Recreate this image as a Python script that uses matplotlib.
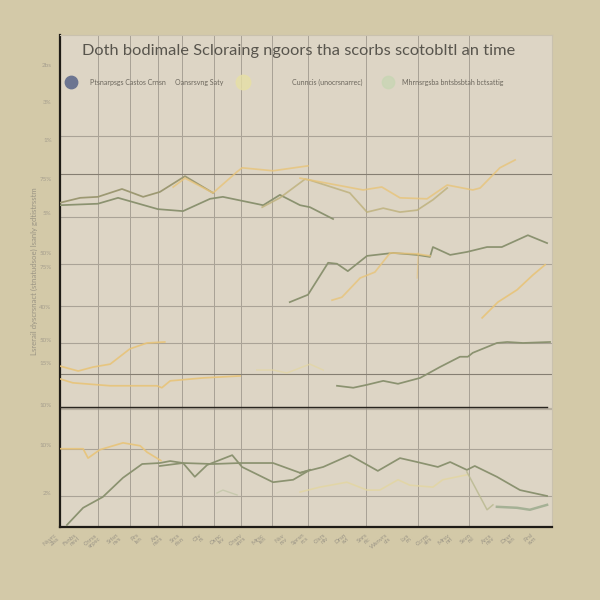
import numpy as np
import matplotlib
matplotlib.use('Agg')
from matplotlib import pyplot as plt

matplotlib.rcParams['font.family'] = ['Lato', 'DejaVu Sans']

### chart data (x = period index 0-100, y = score 0-100)
title = 'Doth bodimale Scloraing ngoors tha scorbs scotobltl an time'
legend_labels = ['Ptsnarpsgs Castos Crnsn', 'Oansrsvng Saty',
                 'Cunncis (unocrsnarrec)', 'Mhrnsrgsba bntsbsbtah bctsattig']
ylabel = 'Lsrerail dyscrsnact (stnatudsoe) lsanly gdtistrsstm'

g1_x = [0, 7.7, 11.8, 19.9, 25.0, 30.5, 33.1, 41.3, 44.7, 48.8, 50.8, 55.5]
g1_y = [65.4, 65.7, 66.9, 64.6, 64.2, 66.7, 67.1, 65.4, 67.5, 65.4, 65.0, 62.6]

b1_x = [0, 4.1, 7.7, 12.6, 16.9, 20.3, 25.4, 31.1]
b1_y = [65.9, 66.9, 67.1, 68.7, 67.1, 68.1, 71.3, 67.9]

y1_x = [23.0, 25.4, 31.1, 36.0, 37.0, 43.3, 50.4]
y1_y = [69.1, 70.9, 67.9, 72.2, 73.0, 72.4, 73.4]

b2_x = [41.1, 44.7, 49.8, 50.8, 58.9, 62.4, 65.7, 69.1, 72.6, 75.8, 78.7]
b2_y = [65.0, 66.9, 70.7, 70.5, 67.9, 64.0, 64.8, 64.0, 64.4, 66.5, 68.9]

y3_x = [48.8, 61.6, 65.4, 69.1, 74.6, 78.7, 83.9, 85.4, 89.4, 92.5]
y3_y = [70.9, 68.5, 69.1, 66.9, 66.7, 69.5, 68.5, 68.9, 73.0, 74.6]

g2_x = [46.7, 50.4, 54.5, 56.3, 58.5, 62.4, 67.7, 72.6, 75.2, 75.8, 79.3,
        82.7, 86.8, 89.8, 95.1, 99.0]
g2_y = [45.7, 47.2, 53.7, 53.5, 52.0, 55.1, 55.7, 55.3, 54.9, 56.9, 55.3,
        55.9, 56.9, 56.9, 59.3, 57.7]

y4_x = [55.3, 57.3, 61.0, 64.0, 67.1, 72.6, 75.2]
y4_y = [46.1, 46.7, 50.6, 51.8, 55.7, 55.5, 55.1]
y4b_x = [72.6, 72.8]
y4b_y = [50.6, 55.7]

y5_x = [85.8, 89.0, 92.9, 96.1, 98.6]
y5_y = [42.5, 45.7, 48.2, 51.2, 53.3]

y6_x = [0, 3.7, 6.7, 10.2, 14.2, 17.7, 21.3]
y6_y = [32.7, 31.7, 32.5, 33.1, 36.2, 37.4, 37.6]

y7_x = [0, 2.6, 10.2, 19.7, 20.7, 22.4, 29.1, 36.6]
y7_y = [30.1, 29.3, 28.7, 28.7, 28.3, 29.7, 30.3, 30.7]
y7b_x = [40.0, 43.3, 46.1, 50.8, 53.5]
y7b_y = [31.9, 31.9, 31.3, 33.1, 31.9]

g3_x = [56.3, 59.6, 62.4, 65.7, 68.7, 73.2, 77.2, 81.3, 82.9, 83.9, 88.8,
        90.9, 94.1, 99.6]
g3_y = [28.7, 28.3, 28.9, 29.7, 29.1, 30.3, 32.5, 34.6, 34.6, 35.4, 37.4,
        37.6, 37.4, 37.6]

y8_x = [0, 4.7, 5.7, 8.1, 12.8, 16.3, 17.7, 20.5]
y8_y = [15.9, 15.9, 14.0, 15.7, 17.1, 16.5, 15.2, 13.5]

g4_x = [1.4, 4.7, 8.7, 12.8, 16.7, 20.3, 22.4, 25.0, 31.1, 36.6, 43.3, 48.8, 50.8]
g4_y = [0.4, 3.9, 6.1, 10.0, 12.8, 13.0, 13.4, 13.0, 12.8, 13.0, 13.0, 11.0, 11.6]

g5_x = [20.3, 25.0, 27.4, 29.9, 35.0, 37.0, 43.3, 47.4, 50.8]
g5_y = [12.4, 13.0, 10.2, 12.6, 14.6, 12.2, 9.1, 9.6, 11.6]

g6_x = [48.8, 53.5, 58.9, 64.6, 69.1, 72.6, 76.8, 79.3, 82.7, 84.3, 88.8, 93.5, 99.0]
g6_y = [11.0, 12.2, 14.6, 11.4, 14.0, 13.2, 12.2, 13.2, 11.6, 12.4, 10.2, 7.5, 6.3]

y9_x = [48.8, 52.8, 58.3, 62.4, 65.0, 68.7, 71.1, 75.8, 77.8, 82.7]
y9_y = [7.1, 8.1, 9.1, 7.5, 7.5, 9.6, 8.5, 8.1, 9.6, 10.6]

g7_x = [82.7, 86.8, 88.0]
g7_y = [11.2, 3.5, 4.5]
g8_x = [88.8, 92.9, 95.5, 99.0]
g8_y = [4.1, 3.9, 3.5, 4.5]
g9_x = [31.9, 33.1, 36.0]
g9_y = [6.9, 7.5, 6.5]

baseline = 24.4

grid_x = [7.7, 14.2, 19.9, 24.8, 31.3, 36.8, 43.1, 50.4, 62.2, 72.8, 83.1]
grid_y = [79.5, 71.7, 63.0, 53.5, 44.9, 37.4, 31.1, 15.9, 6.3]
dark_grid_y = [71.7, 31.1]

ytick_vals = [93.9, 86.4, 78.7, 70.7, 63.8, 55.7, 52.8, 44.7, 38.0, 33.3, 24.8, 16.7, 6.9]
ytick_labs = ['2bs', '3%', '1%', '75%', '5%', '50%', '75%', '40%', '50%',
              '15%', '10%', '10%', '2%']

xtick_labs = ['Nsvrc\n2lss', 'Fsnbs\nnsvl', 'Cnrss\nsrpsc', 'Srlsn\nnvs', 'Prs\nlsn',
              'Ars\nnsrs', 'Srcs\nrlsn', 'Olv\nrs', 'Osnc\nlsv', 'Cnsrv\nsnrs',
              'Mrsc\nlsn', 'Nsv\nrsv', 'Sprsn\nrcs', 'Clsrs\nnlv', 'Drsn\nsvl',
              'Snrs\nrlc', 'Wsnvrs\ncls', 'Lvs\nrn', 'Ccrns\nslrs', 'Mrsv\nnrl',
              'Ssvn\nrsl', 'Arcs\nnsv', 'Dsvr\nlsn', 'Prsl\nsvn']

### visualize
fig = plt.figure(figsize=(6, 6), dpi=100)
fig.patch.set_facecolor('#d3c9a8')
ax = fig.add_axes([0.1, 0.1217, 0.82, 0.82])
ax.set_facecolor('#ddd5c5')

for gx in grid_x:
    ax.axvline(gx, color='#a8a195', lw=0.7, zorder=1)
for gy in grid_y:
    c = '#857e72' if gy in dark_grid_y else '#aaa397'
    ax.axhline(gy, color=c, lw=0.8, zorder=1)

ax.axhline(baseline - 0.35, color='#a19a8c', lw=1.6, alpha=0.6, zorder=2)
ax.axhline(baseline, xmin=0, xmax=0.99, color='#2a2620', lw=1.0, zorder=3)

olive = '#8b9270'
olive2 = '#9c9872'
yellow = '#e8c479'
pale = '#e3d5a0'
lw = 1.25

ax.plot(g1_x, g1_y, color=olive, lw=lw, zorder=4)
ax.plot(b1_x, b1_y, color=olive2, lw=lw, zorder=4)
ax.plot(y1_x, y1_y, color=yellow, lw=lw, alpha=0.8, zorder=4)
ax.plot(b2_x, b2_y, color='#bdb07a', lw=lw, alpha=0.8, zorder=4)
ax.plot(y3_x, y3_y, color=yellow, lw=lw, alpha=0.8, zorder=4)
ax.plot(g2_x, g2_y, color=olive, lw=lw, zorder=4)
ax.plot(y4_x, y4_y, color=yellow, lw=lw, alpha=0.8, zorder=4)
ax.plot(y4b_x, y4b_y, color=yellow, lw=0.9, alpha=0.6, zorder=4)
ax.plot(y5_x, y5_y, color=yellow, lw=lw, alpha=0.9, zorder=4)
ax.plot(y6_x, y6_y, color=yellow, lw=lw, alpha=0.9, zorder=4)
ax.plot(y7_x, y7_y, color=yellow, lw=lw, alpha=0.9, zorder=4)
ax.plot(y7b_x, y7b_y, color=pale, lw=1.1, alpha=0.7, zorder=4)
ax.plot(g3_x, g3_y, color=olive, lw=lw, zorder=4)
ax.plot(y8_x, y8_y, color=yellow, lw=lw, alpha=0.9, zorder=4)
ax.plot(g4_x, g4_y, color=olive, lw=lw, zorder=4)
ax.plot(g5_x, g5_y, color=olive, lw=lw, zorder=4)
ax.plot(g6_x, g6_y, color=olive, lw=lw, zorder=4)
ax.plot(y9_x, y9_y, color=pale, lw=1.2, alpha=0.8, zorder=4)
ax.plot(g7_x, g7_y, color='#b8b88e', lw=1.1, alpha=0.8, zorder=4)
ax.plot(g8_x, g8_y, color='#97a88a', lw=1.8, alpha=0.8, zorder=4)
ax.plot(g9_x, g9_y, color='#c2c6a8', lw=1.0, alpha=0.8, zorder=4)

### title and legend inside the panel
ax.text(0.484, 0.968, title, transform=ax.transAxes, ha='center', va='center',
        fontsize=11.8, color='#58554d')
leg_x = [0.061, 0.234, 0.472, 0.695]
for lx, lab in zip(leg_x, legend_labels):
    ax.text(lx, 0.904, lab, transform=ax.transAxes, ha='left', va='center',
            fontsize=5, color='#6b665c')
ax.scatter([0.022], [0.904], s=80, color='#6c7591', transform=ax.transAxes, zorder=5)
ax.scatter([0.372], [0.904], s=110, color='#e7e0a6', alpha=0.8, transform=ax.transAxes, zorder=5)
ax.scatter([0.667], [0.904], s=80, color='#c8d6b4', alpha=0.8, transform=ax.transAxes, zorder=5)

### axes styling
for side in ['left', 'bottom']:
    ax.spines[side].set_color('#1e1b16')
    ax.spines[side].set_linewidth(1.6)
for side in ['top', 'right']:
    ax.spines[side].set_color('#c9c1ae')
    ax.spines[side].set_linewidth(0.8)

ax.set_yticks(ytick_vals)
ax.set_yticklabels(ytick_labs, fontsize=4.5, color='#a59e8e')
ax.tick_params(axis='y', length=0, pad=6)

xt = np.linspace(0, 97, len(xtick_labs))
ax.set_xticks(xt)
ax.set_xticklabels(xtick_labs, fontsize=4.5, color='#9a9486', rotation=40,
                   ha='right', linespacing=0.9)
ax.tick_params(axis='x', length=0, pad=4)

# limits last so the tick positions do not widen the view
ax.set_xlim(0, 100)
ax.set_ylim(0, 100)

ax.set_ylabel(ylabel, fontsize=5.6, color='#9a9484', labelpad=2)
ax.yaxis.set_label_coords(-0.045, 0.52)

plt.savefig('out.png', dpi=100, facecolor=fig.get_facecolor())
